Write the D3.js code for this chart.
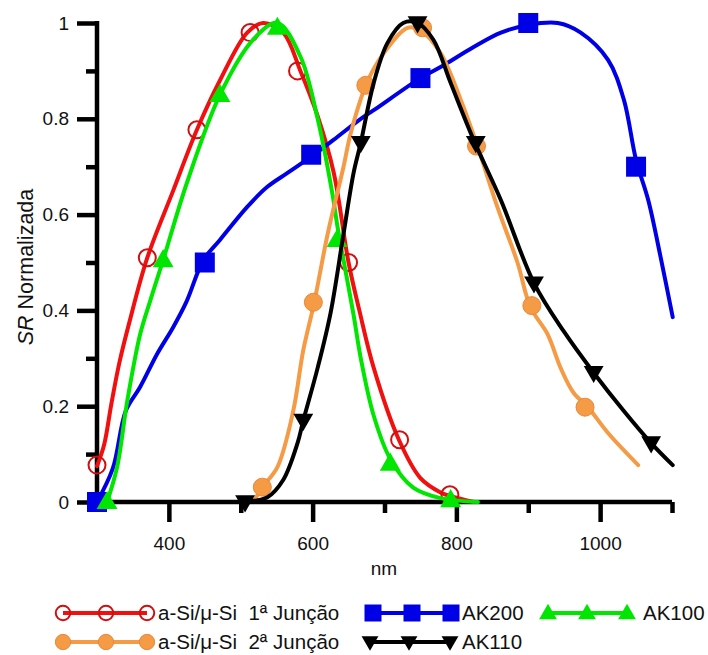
<!DOCTYPE html>
<meta charset="utf-8">
<body style="margin:0;background:#fff">
<script src="https://cdn.jsdelivr.net/npm/d3@7"></script>
<script>

// curves: [nm, SR]
var redCurve = [[300,0.075],[310,0.12],[320,0.205],[331,0.29],[345,0.375],[370,0.51],[406,0.65],[439,0.777],[471,0.88],[509,0.98],[531,1.0],[559,0.98],[583,0.90],[606,0.81],[629,0.69],[650,0.50],[665,0.40],[685,0.28],[720,0.13],[750,0.05],[778,0.02],[792,0.012],[824,0]];
var redMarks = [[300,0.077],[370,0.51],[439,0.777],[513,0.98],[579,0.90],[650,0.50],[721,0.13],[791,0.015]];

var greenCurve = [[314,0],[328,0.073],[342,0.21],[360,0.35],[374,0.42],[392,0.505],[425,0.666],[471,0.85],[517,0.965],[551,1.0],[583,0.93],[607,0.80],[629,0.63],[634,0.58],[657,0.39],[667,0.30],[685,0.18],[708,0.09],[740,0.03],[778,0.008],[830,0]];
var greenMarks = [[314,0],[392,0.505],[471,0.85],[551,0.99],[634,0.547],[708,0.08],[792,0.004]];

var blueCurve = [[300,0],[322,0.07],[340,0.19],[360,0.24],[384,0.31],[406,0.365],[425,0.42],[448,0.505],[471,0.547],[509,0.616],[537,0.658],[565,0.687],[597,0.72],[629,0.756],[667,0.80],[685,0.818],[750,0.885],[778,0.908],[824,0.95],[862,0.98],[900,0.996],[941,1.0],[973,0.98],[1011,0.923],[1033,0.84],[1050,0.714],[1067,0.63],[1085,0.505],[1101,0.386]];
var blueMarks = [[300,0],[450,0.50],[598,0.725],[750,0.885],[900,1.0],[1050,0.70]];

var orangeCurve = [[520,0.006],[530,0.031],[551,0.073],[573,0.19],[587,0.317],[602,0.415],[621,0.56],[643,0.70],[653,0.77],[676,0.877],[699,0.937],[732,0.99],[750,0.985],[778,0.937],[806,0.84],[830,0.74],[857,0.616],[885,0.50],[903,0.407],[927,0.35],[945,0.28],[963,0.228],[983,0.198],[1011,0.144],[1053,0.077]];
var orangeMarks = [[530,0.031],[601,0.417],[674,0.87],[753,0.99],[828,0.743],[905,0.41],[979,0.198]];

var blackCurve = [[503,0],[537,0.01],[559,0.046],[579,0.123],[587,0.17],[607,0.28],[625,0.395],[643,0.56],[657,0.687],[667,0.75],[685,0.875],[704,0.958],[726,1.0],[746,1.0],[768,0.965],[792,0.875],[824,0.756],[862,0.63],[908,0.457],[950,0.355],[991,0.27],[1033,0.19],[1071,0.123],[1101,0.077]];
var blackMarks = [[506,0],[587,0.17],[667,0.75],[746,1.0],[827,0.75],[908,0.457],[991,0.27],[1071,0.123]];

var xMajor = [400, 600, 800, 1000];
var xMinor = [500, 700, 900, 1100];
var yMajor = [0, 0.2, 0.4, 0.6, 0.8, 1];
var yMinor = [0.1, 0.3, 0.5, 0.7, 0.9];

var FONT = 'Liberation Sans, Arial, sans-serif';

var svg = d3.select('body').append('svg')
    .attr('width', 708)
    .attr('height', 655);

var x = d3.scaleLinear().domain([300, 1100]).range([97, 672]);
var y = d3.scaleLinear().domain([0, 1]).range([502, 23]);

// axes
var gx = svg.append('g').attr('transform', 'translate(0,502)');
gx.call(d3.axisBottom(x).tickValues(xMajor).tickSize(20).tickFormat(d3.format('d')));
gx.selectAll('.tick text').attr('y', 0).attr('dy', null).attr('transform', 'translate(0,48)');
var gxm = svg.append('g').attr('transform', 'translate(0,502)');
gxm.call(d3.axisBottom(x).tickValues(xMinor).tickSize(11).tickFormat(''));
gxm.select('.domain').remove();

var gy = svg.append('g').attr('transform', 'translate(97,0)');
gy.call(d3.axisLeft(y).tickValues(yMajor).tickSize(20).tickFormat(d3.format('')));
gy.selectAll('.tick text').attr('x', -28);
var gym = svg.append('g').attr('transform', 'translate(97,0)');
gym.call(d3.axisLeft(y).tickValues(yMinor).tickSize(11).tickFormat(''));
gym.select('.domain').remove();

gx.select('.domain').attr('d', 'M95,0H672');
gy.select('.domain').attr('d', 'M0,504V21');
svg.selectAll('.domain, .tick line').attr('stroke', '#000').attr('stroke-width', 4.5);
svg.selectAll('.tick text').attr('font-family', FONT).attr('font-size', 19).attr('fill', '#111');

svg.append('text')
  .attr('x', 384).attr('y', 575)
  .attr('text-anchor', 'middle')
  .attr('font-family', FONT).attr('font-size', 19).attr('fill', '#111')
  .text('nm');

var yt = svg.append('text')
  .attr('transform', 'translate(33,267) rotate(-90)')
  .attr('text-anchor', 'middle')
  .attr('font-family', FONT).attr('font-size', 21.5).attr('fill', '#111');
yt.append('tspan').attr('font-style', 'italic').text('SR');
yt.append('tspan').text(' Normalizada');

var line = d3.line()
  .x(d => x(d[0]))
  .y(d => y(d[1]))
  .curve(d3.curveCatmullRom.alpha(0.5));

var plot = svg.append('g');

function marker(g, kind, cx, cy, big) {
  var s = big ? 1 : 0.85;
  if (kind == 'ocircle') {
    g.append('circle').attr('cx', cx).attr('cy', cy).attr('r', 8.5 * s)
      .attr('fill', 'none').attr('stroke', '#d01010').attr('stroke-width', 2);
  } else if (kind == 'fcircle') {
    g.append('circle').attr('cx', cx).attr('cy', cy).attr('r', 9 * s)
      .attr('fill', '#f59a45').attr('stroke', '#e8893a').attr('stroke-width', 1);
  } else if (kind == 'square') {
    var h = 10 * s;
    g.append('rect').attr('x', cx - h).attr('y', cy - h).attr('width', 2 * h).attr('height', 2 * h)
      .attr('fill', '#0000e6');
  } else if (kind == 'tri') {
    g.append('path').attr('d', d3.symbol(d3.symbolTriangle, 190 * s * s)())
      .attr('transform', 'translate(' + cx + ',' + (cy + 1) + ')')
      .attr('fill', '#00e600');
  } else if (kind == 'dtri') {
    g.append('path').attr('d', d3.symbol(d3.symbolTriangle, 170 * s * s)())
      .attr('transform', 'translate(' + cx + ',' + (cy - 1) + ') rotate(180)')
      .attr('fill', '#000');
  }
}

var series = [
  {curve: redCurve, marks: redMarks, color: '#f01010', kind: 'ocircle', label: 'a-Si/\u03bc-Si  1\u00aa Jun\u00e7\u00e3o', lx: [63, 106, 147], ly: 613, tx: 158},
  {curve: blueCurve, marks: blueMarks, color: '#0000e6', kind: 'square', label: 'AK200', lx: [373, 412, 451], ly: 613, tx: 462},
  {curve: greenCurve, marks: greenMarks, color: '#00e600', kind: 'tri', label: 'AK100', lx: [548, 587, 627], ly: 613, tx: 643},
  {curve: orangeCurve, marks: orangeMarks, color: '#f59a45', kind: 'fcircle', label: 'a-Si/\u03bc-Si  2\u00aa Jun\u00e7\u00e3o', lx: [63, 106, 147], ly: 642, tx: 158},
  {curve: blackCurve, marks: blackMarks, color: '#000', kind: 'dtri', label: 'AK110', lx: [370, 409, 450], ly: 642, tx: 462}
];

series.forEach(function(s) {
  var g = plot.append('g');
  g.append('path').attr('d', line(s.curve))
    .attr('fill', 'none').attr('stroke', s.color).attr('stroke-width', 4)
    .attr('stroke-linejoin', 'round').attr('stroke-linecap', 'round');
  s.marks.forEach(m => marker(g, s.kind, x(m[0]), y(m[1]), true));
});

// legend
var leg = svg.append('g');
series.forEach(function(s) {
  var g = leg.append('g');
  g.append('line').attr('x1', s.lx[0]).attr('x2', s.lx[2]).attr('y1', s.ly).attr('y2', s.ly)
    .attr('stroke', s.color).attr('stroke-width', 4);
  s.lx.forEach(v => marker(g, s.kind, v, s.ly, false));
  g.append('text').attr('x', s.tx).attr('y', s.ly).attr('dy', '0.35em')
    .attr('font-family', FONT).attr('font-size', 20.5).attr('fill', '#111')
    .style('white-space', 'pre')
    .text(s.label);
});
</script>
</body>
</html>
